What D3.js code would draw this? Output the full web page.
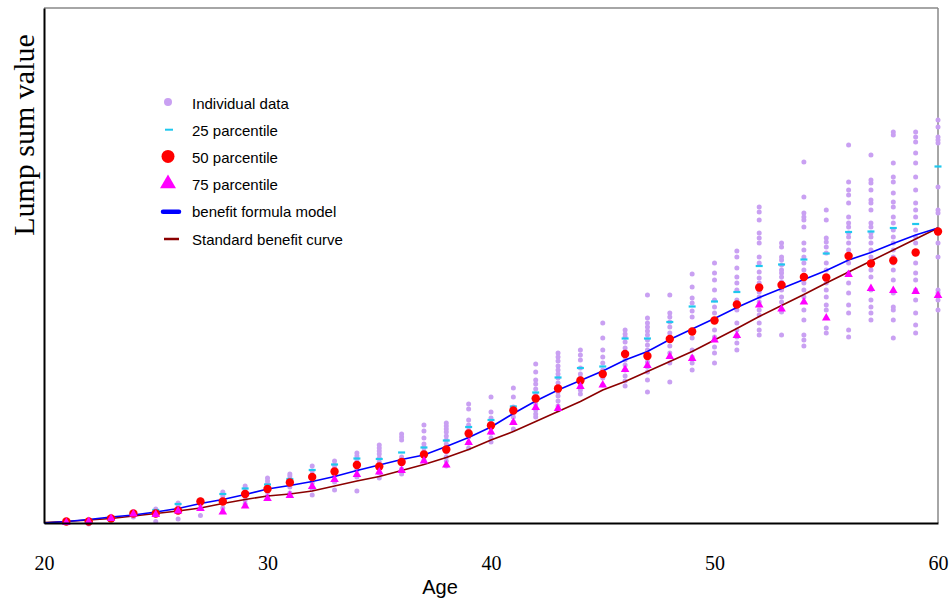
<!DOCTYPE html>
<html>
<head>
<meta charset="utf-8">
<script src="https://cdn.jsdelivr.net/npm/d3@7"></script>
<style>
    body { margin: 0; background: #fff; }
    svg { display: block; }
</style>
</head>
<body>
<div id="chart"></div>
<script>
"use strict";

// ages with survey data
var ages = [21, 22, 23, 24, 25, 26, 27, 28, 29, 30,
            31, 32, 33, 34, 35, 36, 37, 38, 39, 40,
            41, 42, 43, 44, 45, 46, 47, 48, 49, 50,
            51, 52, 53, 54, 55, 56, 57, 58, 59, 60];

// ages for the two curves
var curveAges = [20, 21, 22, 23, 24, 25, 26, 27, 28, 29, 30,
                 31, 32, 33, 34, 35, 36, 37, 38, 39, 40,
                 41, 42, 43, 44, 45, 46, 47, 48, 49, 50,
                 51, 52, 53, 54, 55, 56, 57, 58, 59, 60];

var p25 = [4, 5, 12, 21, 26, 38, 46, 58, 69, 77,
           88, 106, 117, 129, 128, 141, 151, 165, 192, 206,
           233, 261, 291, 310, 313, 369, 369, 402, 433, 443,
           462, 514, 517, 527, 539, 582, 583, 590, 598, 713];

var p50 = [3, 3, 9, 19, 19, 25, 43, 43, 58, 68,
           81, 92, 103, 116, 113, 122, 137, 147, 179, 195,
           225, 249, 269, 285, 298, 338, 334, 368, 383, 405,
           437, 471, 476, 492, 491, 534, 519, 525, 541, 583];

var p75 = [1, 3, 9, 18, 17, 24, 29, 22, 34, 49,
           55, 73, 87, 97, 102, 105, 124, 116, 161, 182,
           201, 231, 229, 273, 276, 307, 315, 333, 329, 366,
           375, 436, 428, 442, 410, 497, 469, 465, 463, 455];

var formulaModel = [0, 3, 7, 12, 16, 22, 29, 39, 47, 57, 68,
                    75, 83, 93, 105, 116, 127, 136, 153, 171, 192,
                    219, 244, 266, 285, 304, 326, 343, 367, 388, 409,
                    431, 451, 469, 487, 505, 526, 541, 559, 576, 590];

var standardCurve = [1, 3, 6, 9, 14, 19, 24, 30, 39, 47, 54,
                     58, 64, 74, 84, 93, 105, 117, 131, 147, 166,
                     183, 203, 223, 243, 266, 283, 303, 323, 343, 366,
                     389, 413, 435, 457, 480, 502, 524, 546, 568, 590];

// individual observations, one list per age
var individual = [
    [2, 4],
    [6, -2],
    [10],
    [12, 20],
    [28, 22, 16, 3],
    [40, 34, 22, 8],
    [46, 38, 15],
    [62, 54, 48, 30],
    [74, 70, 64, 46, 38],
    [90, 84, 78, 74, 62, 54],
    [98, 94, 88, 72, 60],
    [114, 104, 94, 80, 68, 56],
    [124, 116, 110, 96, 82, 66],
    [140, 134, 128, 122, 106, 92, 64],
    [156, 150, 144, 138, 130, 122, 100, 90],
    [178, 172, 166, 132, 108, 98],
    [196, 184, 170, 158, 152, 144, 126],
    [200, 194, 188, 182, 174, 166, 158, 142, 132, 124, 114],
    [238, 228, 206, 196, 186, 172, 160, 150],
    [252, 222, 210, 200, 190, 180, 170, 162],
    [270, 252, 232, 220, 212, 202, 188],
    [318, 302, 286, 278, 268, 258, 238, 226, 218, 212],
    [340, 332, 324, 314, 306, 298, 290, 280, 272, 262, 254, 244, 234, 226],
    [346, 336, 326, 310, 298, 290, 276, 266, 258],
    [400, 370, 346, 332, 320, 306, 290, 276],
    [386, 378, 372, 362, 350, 342, 326, 316, 306, 294, 284, 274],
    [456, 410, 400, 392, 384, 376, 366, 356, 346, 332, 322, 312, 302, 286, 262],
    [456, 420, 412, 402, 392, 380, 354, 340, 320, 282],
    [498, 472, 450, 440, 424, 412, 386, 370, 346, 332, 320, 306],
    [520, 500, 486, 466, 446, 432, 420, 406, 386, 372, 352, 340, 320],
    [544, 532, 510, 492, 480, 466, 446, 426, 400, 386, 372, 360, 346],
    [632, 622, 606, 580, 570, 560, 532, 520, 502, 490, 480, 462, 452, 442, 426, 416, 400, 386, 376],
    [560, 552, 532, 526, 516, 506, 500, 492, 482, 466, 452, 442, 422, 376],
    [722, 652, 620, 612, 606, 592, 560, 546, 532, 520, 506, 480, 466, 452, 426, 406, 376, 366, 354],
    [626, 606, 570, 562, 552, 540, 520, 506, 492, 480, 466, 452, 436, 426, 390, 380],
    [756, 682, 666, 656, 640, 612, 600, 592, 580, 572, 560, 546, 520, 500, 480, 460, 436, 420, 386, 372],
    [736, 686, 680, 666, 646, 640, 626, 600, 592, 580, 572, 560, 546, 532, 506, 492, 466, 446, 432, 420, 406],
    [782, 776, 720, 692, 682, 660, 642, 632, 612, 600, 586, 572, 560, 546, 532, 520, 506, 486, 460, 432, 426, 406, 370],
    [782, 772, 762, 740, 720, 692, 666, 640, 626, 612, 586, 572, 560, 520, 500, 486, 466, 446, 420, 396, 380],
    [806, 792, 772, 766, 760, 672, 626, 620, 560, 532, 466, 460, 446, 426]
];

var xTicks = [20, 30, 40, 50, 60];

var legendLabels = ["Individual data", "25 parcentile", "50 parcentile",
                    "75 parcentile", "benefit formula model", "Standard benefit curve"];

// #############################################################################
var width = 952, height = 599;
var margin = {left: 44, right: 14, top: 8, bottom: 76};
var serif = "'Liberation Serif', 'Times New Roman', serif";
var sans = "'Liberation Sans', Arial, sans-serif";

var colors = {
    dots: "#c9a0f2",
    p25: "#1ec8ee",
    p50: "#ff0000",
    p75: "#ff00ff",
    model: "#0000ff",
    standard: "#8b0000"
};

var svg = d3.select("#chart")
            .append("svg")
            .attr("width", width)
            .attr("height", height);

var x = d3.scaleLinear()
          .domain([20, 60])
          .range([margin.left, width - margin.right]);

var y = d3.scaleLinear()
          .domain([0, 1030])
          .range([height - margin.bottom, margin.top]);

// frame: grey top and right, black left and bottom
svg.append("line")
   .attr("x1", x(20)).attr("x2", x(60))
   .attr("y1", y(1030)).attr("y2", y(1030))
   .attr("stroke", "#888").attr("stroke-width", 1.5);
svg.append("line")
   .attr("x1", x(60)).attr("x2", x(60))
   .attr("y1", y(1030)).attr("y2", y(0))
   .attr("stroke", "#888").attr("stroke-width", 1.5);

// individual points
var flat = [];
ages.forEach(function(a, i) {
    individual[i].forEach(function(v) { flat.push({age: a, v: v}); });
});

svg.append("g")
   .selectAll("circle")
   .data(flat)
   .enter().append("circle")
   .attr("cx", function(d) { return x(d.age); })
   .attr("cy", function(d) { return y(d.v); })
   .attr("r", 2.5)
   .attr("fill", colors.dots);

// 25 percentile dashes
svg.append("g")
   .selectAll("rect")
   .data(ages)
   .enter().append("rect")
   .attr("x", function(d) { return x(d) - 3.5; })
   .attr("y", function(d, i) { return y(p25[i]) - 1.1; })
   .attr("width", 7)
   .attr("height", 2.2)
   .attr("fill", colors.p25);

// curves
var line = function(vals) {
    return d3.line()
             .x(function(d, i) { return x(curveAges[i]); })
             .y(function(d) { return y(d); })(vals);
};

svg.append("path")
   .attr("d", line(standardCurve))
   .attr("fill", "none")
   .attr("stroke", colors.standard)
   .attr("stroke-width", 1.6);

svg.append("path")
   .attr("d", line(formulaModel))
   .attr("fill", "none")
   .attr("stroke", colors.model)
   .attr("stroke-width", 1.6);

// 50 percentile
svg.append("g")
   .selectAll("circle")
   .data(ages)
   .enter().append("circle")
   .attr("cx", function(d) { return x(d); })
   .attr("cy", function(d, i) { return y(p50[i]); })
   .attr("r", 4.2)
   .attr("fill", colors.p50);

// 75 percentile
var tri = d3.symbol().type(d3.symbolTriangle).size(32);
svg.append("g")
   .selectAll("path")
   .data(ages)
   .enter().append("path")
   .attr("d", tri)
   .attr("transform", function(d, i) { return `translate(${x(d)},${y(p75[i])})`; })
   .attr("fill", colors.p75);

// #############################################################################
// axes
var xAxis = d3.axisBottom(x)
              .tickValues(xTicks)
              .tickSize(0)
              .tickPadding(33)
              .tickFormat(d3.format("d"));

var gx = svg.append("g")
            .attr("transform", `translate(0, ${y(0)})`)
            .call(xAxis);
gx.select(".domain").attr("stroke", "#000").attr("stroke-width", 2);
gx.selectAll("text")
  .attr("font-family", serif)
  .attr("font-size", 20)
  .attr("fill", "#000");

var gy = svg.append("g")
            .attr("transform", `translate(${x(20)}, 0)`)
            .call(d3.axisLeft(y).ticks(0).tickSize(0));
gy.select(".domain").attr("stroke", "#000").attr("stroke-width", 2);

svg.append("text")
   .attr("x", 440)
   .attr("y", 594)
   .attr("text-anchor", "middle")
   .attr("font-family", sans)
   .attr("font-size", 20)
   .text("Age");

svg.append("text")
   .attr("transform", "translate(34, 135) rotate(-90)")
   .attr("text-anchor", "middle")
   .attr("font-family", serif)
   .attr("font-size", 30)
   .text("Lump sum value");

// #############################################################################
// legend
var legend = svg.append("g").attr("transform", "translate(168, 103)");
var rowH = 27.2;

legend.selectAll("text")
      .data(legendLabels)
      .enter().append("text")
      .attr("x", 24)
      .attr("y", function(d, i) { return i * rowH + 5.5; })
      .attr("font-family", sans)
      .attr("font-size", 15)
      .attr("fill", "#000")
      .text(function(d) { return d; });

legend.append("circle").attr("cx", 0).attr("cy", -1).attr("r", 4).attr("fill", colors.dots);
legend.append("rect").attr("x", -3).attr("y", rowH - 1.5).attr("width", 8).attr("height", 2)
      .attr("fill", colors.p25);
legend.append("circle").attr("cx", 0).attr("cy", 2 * rowH - 1).attr("r", 6.5).attr("fill", colors.p50);
legend.append("path")
      .attr("d", d3.symbol().type(d3.symbolTriangle).size(110))
      .attr("transform", `translate(0, ${3 * rowH - 1})`)
      .attr("fill", colors.p75);
legend.append("line")
      .attr("x1", -5).attr("x2", 11)
      .attr("y1", 4 * rowH).attr("y2", 4 * rowH)
      .attr("stroke", colors.model).attr("stroke-width", 4.5)
      .attr("stroke-linecap", "round");
legend.append("line")
      .attr("x1", -4).attr("x2", 11)
      .attr("y1", 5 * rowH).attr("y2", 5 * rowH)
      .attr("stroke", colors.standard).attr("stroke-width", 2.5);
</script>
</body>
</html>
